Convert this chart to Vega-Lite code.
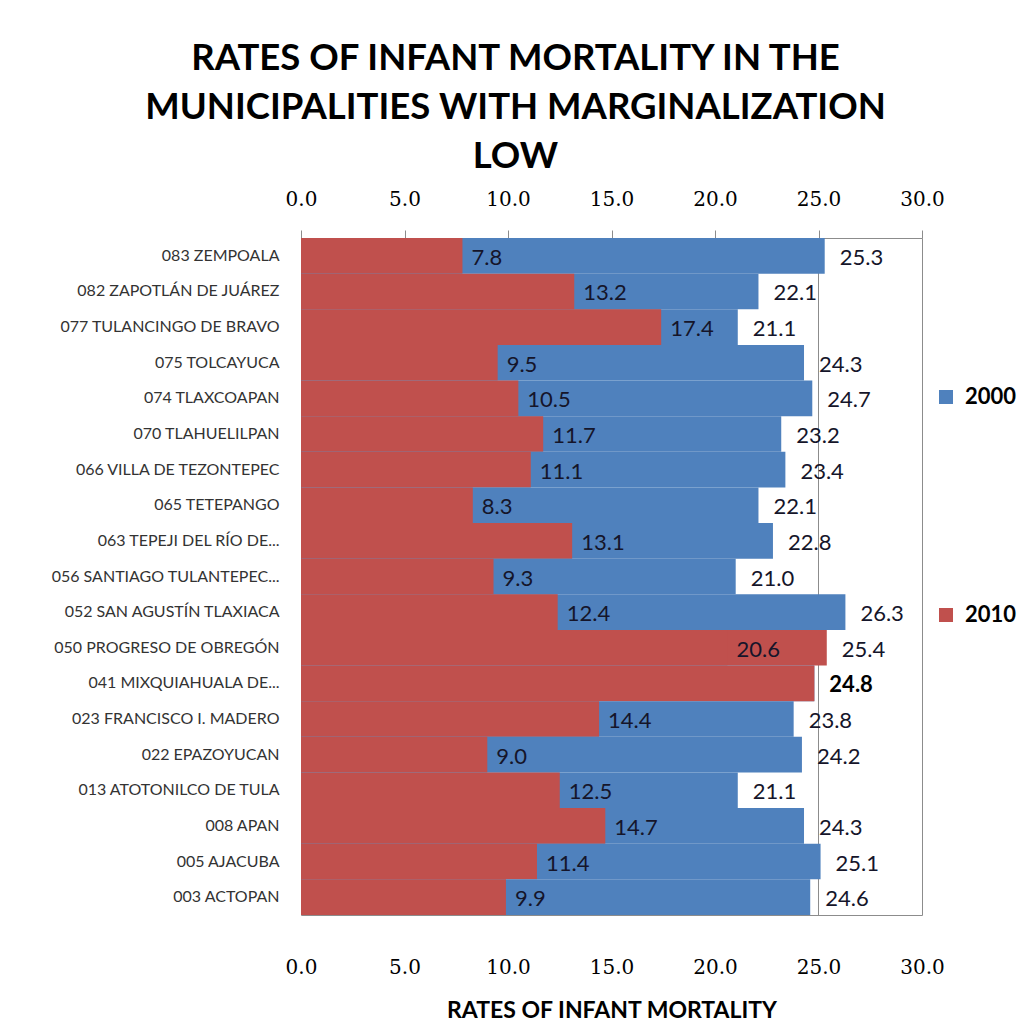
{
  "$schema": "https://vega.github.io/schema/vega-lite/v6.json",
  "autosize": {"type": "none"},
  "padding": {"left": 301, "top": 238, "right": 95, "bottom": 115},
  "width": 621,
  "height": 677,
  "background": "white",
  "title": {
    "text": ["RATES OF INFANT MORTALITY IN THE", "MUNICIPALITIES WITH MARGINALIZATION", "LOW"],
    "font": "Lato",
    "fontSize": 36.5,
    "fontWeight": "bold",
    "color": "#000000",
    "lineHeight": 49,
    "anchor": "middle",
    "frame": "group",
    "dx": -96,
    "offset": 14
  },
  "data": {
    "values": [
      {"mun": "083  ZEMPOALA", "2000": 25.3, "2010": 7.8},
      {"mun": "082  ZAPOTLÁN DE JUÁREZ", "2000": 22.1, "2010": 13.2},
      {"mun": "077  TULANCINGO DE BRAVO", "2000": 21.1, "2010": 17.4},
      {"mun": "075  TOLCAYUCA", "2000": 24.3, "2010": 9.5},
      {"mun": "074  TLAXCOAPAN", "2000": 24.7, "2010": 10.5},
      {"mun": "070  TLAHUELILPAN", "2000": 23.2, "2010": 11.7},
      {"mun": "066  VILLA DE TEZONTEPEC", "2000": 23.4, "2010": 11.1},
      {"mun": "065  TETEPANGO", "2000": 22.1, "2010": 8.3},
      {"mun": "063  TEPEJI DEL RÍO DE...", "2000": 22.8, "2010": 13.1},
      {"mun": "056  SANTIAGO TULANTEPEC...", "2000": 21.0, "2010": 9.3},
      {"mun": "052  SAN AGUSTÍN TLAXIACA", "2000": 26.3, "2010": 12.4},
      {"mun": "050  PROGRESO DE OBREGÓN", "2000": 25.4, "2010": 20.6},
      {"mun": "041  MIXQUIAHUALA DE...", "2000": 24.8, "2010": 24.8},
      {"mun": "023  FRANCISCO I. MADERO", "2000": 23.8, "2010": 14.4},
      {"mun": "022  EPAZOYUCAN", "2000": 24.2, "2010": 9.0},
      {"mun": "013  ATOTONILCO DE TULA", "2000": 21.1, "2010": 12.5},
      {"mun": "008  APAN", "2000": 24.3, "2010": 14.7},
      {"mun": "005  AJACUBA", "2000": 25.1, "2010": 11.4},
      {"mun": "003  ACTOPAN", "2000": 24.6, "2010": 9.9}
    ]
  },
  "resolve": {"axis": {"x": "independent", "y": "independent"}},
  "layer": [
    {
      "mark": {"type": "rule", "color": "#8c8c8c", "strokeWidth": 1},
      "encoding": {
        "x": {"datum": 25, "type": "quantitative", "scale": {"domain": [0, 30], "nice": false, "zero": true}, "axis": null}
      }
    },
    {
      "transform": [{"fold": ["2000", "2010"], "as": ["year", "rate"]}],
      "mark": {"type": "bar"},
      "encoding": {
        "y": {
          "field": "mun", "type": "nominal", "sort": null,
          "scale": {"paddingInner": 0, "paddingOuter": 0},
          "axis": {
            "title": null, "ticks": false, "domain": false,
            "labelFont": "Lato", "labelFontSize": 16, "labelColor": "#333333",
            "labelPadding": 22, "labelLimit": 320
          }
        },
        "x": {
          "field": "rate", "type": "quantitative", "stack": null,
          "scale": {"domain": [0, 30], "nice": false},
          "axis": {
            "orient": "top", "title": null, "values": [0, 5, 10, 15, 20, 25, 30], "format": ".1f",
            "grid": false, "domain": false, "ticks": true, "tickSize": 8, "tickColor": "#8c8c8c",
            "labelFont": "DejaVu Serif", "labelFontSize": 20, "labelColor": "#000000", "labelPadding": 21,
            "labelFlush": false
          }
        },
        "color": {
          "condition": {"test": "datum.year === '2000' && datum.mun === '050  PROGRESO DE OBREGÓN'", "value": "#C0504D"},
          "field": "year", "type": "nominal",
          "scale": {"domain": ["2000", "2010"], "range": ["#4F81BD", "#C0504D"]},
          "legend": {
            "orient": "none", "legendX": 634, "legendY": 148, "title": null,
            "symbolType": "square", "symbolSize": 196, "symbolStrokeWidth": 0,
            "labelFont": "Lato", "labelFontSize": 22, "labelFontWeight": "bold", "labelColor": "#000000",
            "labelOffset": 8, "rowPadding": 196
          }
        }
      }
    },
    {
      "transform": [{"filter": "datum['2000'] !== datum['2010']"}],
      "mark": {"type": "text", "align": "left", "baseline": "middle", "dx": 15, "dy": 2, "font": "Lato", "fontSize": 22, "color": "#15152a"},
      "encoding": {
        "y": {"field": "mun", "type": "nominal", "sort": null, "axis": null},
        "x": {
          "field": "2000", "type": "quantitative",
          "axis": {
            "orient": "bottom", "title": "RATES OF INFANT MORTALITY", "values": [0, 5, 10, 15, 20, 25, 30], "format": ".1f",
            "grid": false, "domain": false, "ticks": false,
            "labelFont": "DejaVu Serif", "labelFontSize": 20, "labelColor": "#000000", "labelPadding": 42,
            "labelFlush": false,
            "titleFont": "Lato", "titleFontSize": 23, "titleFontWeight": "bold", "titleColor": "#000000", "titlePadding": 22
          }
        },
        "text": {"field": "2000", "type": "quantitative", "format": ".1f"}
      }
    },
    {
      "transform": [{"filter": "datum['2000'] === datum['2010']"}],
      "mark": {"type": "text", "align": "left", "baseline": "middle", "dx": 15, "dy": 2, "font": "Lato", "fontSize": 22, "fontWeight": "bold", "color": "#000000"},
      "encoding": {
        "y": {"field": "mun", "type": "nominal", "sort": null, "axis": null},
        "x": {"field": "2000", "type": "quantitative", "axis": null},
        "text": {"field": "2000", "type": "quantitative", "format": ".1f"}
      }
    },
    {
      "transform": [{"filter": "datum['2000'] !== datum['2010']"}],
      "mark": {"type": "text", "align": "left", "baseline": "middle", "dx": 9, "dy": 2, "font": "Lato", "fontSize": 22, "color": "#15152a"},
      "encoding": {
        "y": {"field": "mun", "type": "nominal", "sort": null, "axis": null},
        "x": {"field": "2010", "type": "quantitative", "axis": null},
        "text": {"field": "2010", "type": "quantitative", "format": ".1f"}
      }
    }
  ],
  "config": {
    "view": {"stroke": "#8c8c8c", "strokeWidth": 1}
  }
}
